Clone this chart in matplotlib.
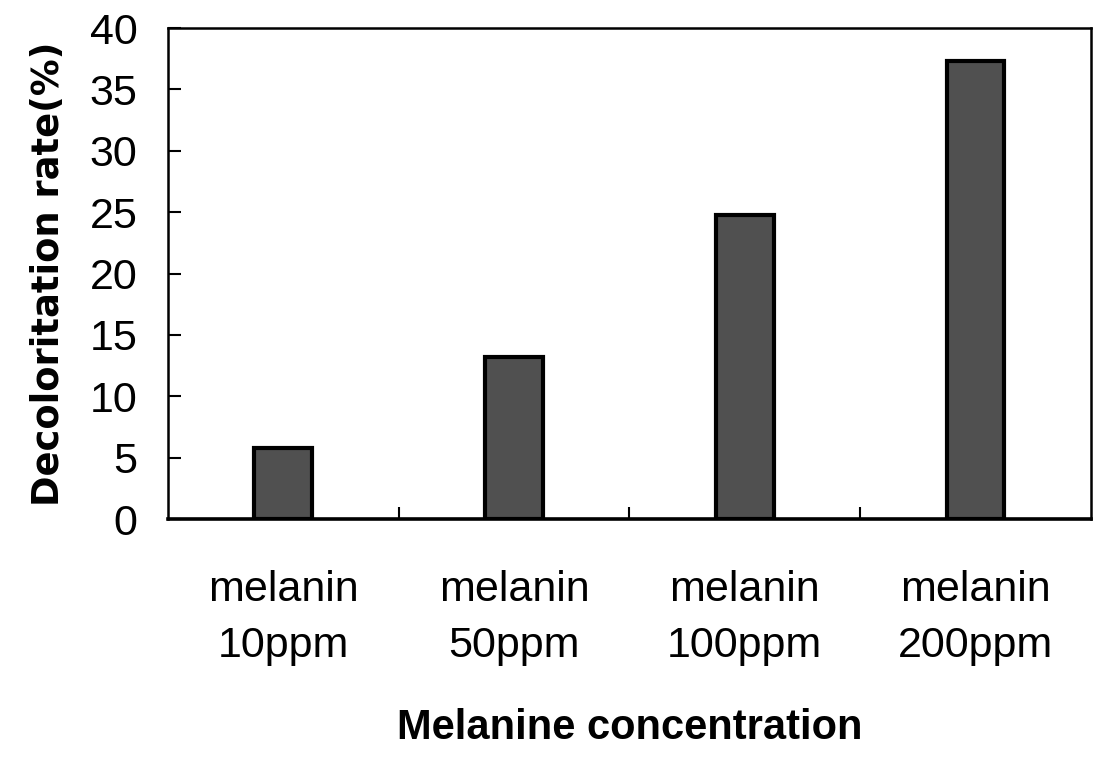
import matplotlib.pyplot as plt
import numpy as np

# data
categories = ['melanin\n10ppm', 'melanin\n50ppm', 'melanin\n100ppm', 'melanin\n200ppm']
rates = [5.8, 13.2, 24.8, 37.3]
yticks = [0, 5, 10, 15, 20, 25, 30, 35, 40]

narrow = ['Liberation Sans Narrow', 'Liberation Sans', 'DejaVu Sans']

fig = plt.figure(figsize=(11, 7.58), dpi=100)
ax = fig.add_axes([0.1527, 0.3153, 0.839, 0.6477])

x = np.arange(len(categories))
ax.bar(x, rates, width=0.25, color='#505050', edgecolor='black', linewidth=3)

ax.set_xlim(-0.5, 3.5)
ax.set_ylim(0, 40)

# y axis
ax.set_yticks(yticks)
ax.set_yticklabels([str(t) for t in yticks], family=narrow, fontsize=31)
ax.tick_params(axis='y', direction='in', length=9, width=1.5, pad=22)

# x axis: ticks on category boundaries, labels under bar centres
ax.set_xticks(x[:-1] + 0.5)
ax.set_xticklabels([])
ax.tick_params(axis='x', which='major', direction='in', length=9, width=1.5)
ax.set_xticks(x, minor=True)
ax.set_xticklabels(categories, minor=True, family=narrow, fontsize=31,
                   linespacing=1.5)
ax.tick_params(axis='x', which='minor', length=0, pad=37)

for side in ['left', 'top', 'right']:
    ax.spines[side].set_linewidth(1.8)
ax.spines['bottom'].set_linewidth(2.6)

ax.set_ylabel('Decoloritation rate(%)', family='DejaVu Sans', fontweight='bold',
              fontsize=26.5, labelpad=16)
ax.set_xlabel('Melanine concentration', family=narrow, fontweight='bold',
              fontsize=30, labelpad=30)

fig.savefig('out.png', dpi=100)
